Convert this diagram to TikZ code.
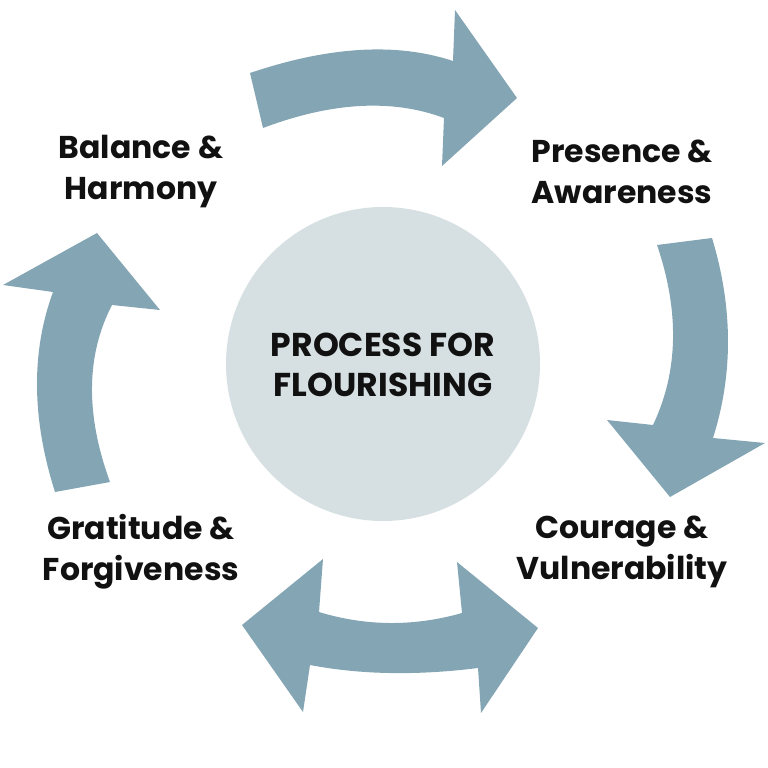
\documentclass[tikz,border=0pt]{standalone}
\usepackage{fontspec}
\setmainfont{Poppins}
\definecolor{arrowblue}{HTML}{84A6B4}
\definecolor{circlegrey}{HTML}{D6DFE2}
\definecolor{textdark}{HTML}{111111}
\tikzset{
  bigarrow/.style={fill=arrowblue, draw=none},
  label/.style={font=\fontsize{31.5}{41}\selectfont\bfseries, text=textdark, align=center, inner sep=0pt},
  hublabel/.style={font=\fontsize{33}{40}\selectfont\bfseries, text=textdark, align=center, inner sep=0pt},
}
\begin{document}
\begin{tikzpicture}[x=1pt,y=-1pt]
\useasboundingbox (0,0) rectangle (768,768);
% top arrow
\fill[bigarrow] (250,73) .. controls (329,46.3) and (396.7,42.3) .. (453,61) -- (455,10) -- (517,98) -- (442,166) -- (444,118) .. controls (392.3,98.7) and (332,102) .. (263,128) -- cycle;
% right arrow
\fill[bigarrow] (657,245) -- (712,238) .. controls (733,307.3) and (733.3,374) .. (713,438) -- (765,443) -- (670,497) -- (607,420) -- (653,425) .. controls (678.3,371.7) and (679.7,311.7) .. (657,245) -- cycle;
% bottom double arrow
\fill[bigarrow] (242,625) -- (323,559) -- (319,612) .. controls (366,626.3) and (413.7,626.7) .. (462,613) -- (457,562) -- (538,628) -- (481,713) -- (478,668) .. controls (416.7,675.7) and (360.7,674.7) .. (310,665) -- (303,712) -- cycle;
% left arrow
\fill[bigarrow] (55,492) -- (110,482) .. controls (85.3,414.3) and (86,355.3) .. (112,305) -- (160,310) -- (97,233) -- (3,285) -- (53,292) .. controls (31,352) and (31.7,418.7) .. (55,492) -- cycle;
% circle
\node[circle, fill=circlegrey, minimum size=314pt, inner sep=0pt] (hub) at (383,364) {};
\node[hublabel] (center) at (383,365) {PROCESS FOR\\FLOURISHING};
\node[label] (balance) at (141,172) {Balance \&\\Harmony};
\node[label] (presence) at (622,172) {Presence \&\\Awareness};
\node[label] (gratitude) at (141,552) {Gratitude \&\\Forgiveness};
\node[label] (courage) at (622,552) {Courage \&\\Vulnerability};
\end{tikzpicture}
\end{document}
